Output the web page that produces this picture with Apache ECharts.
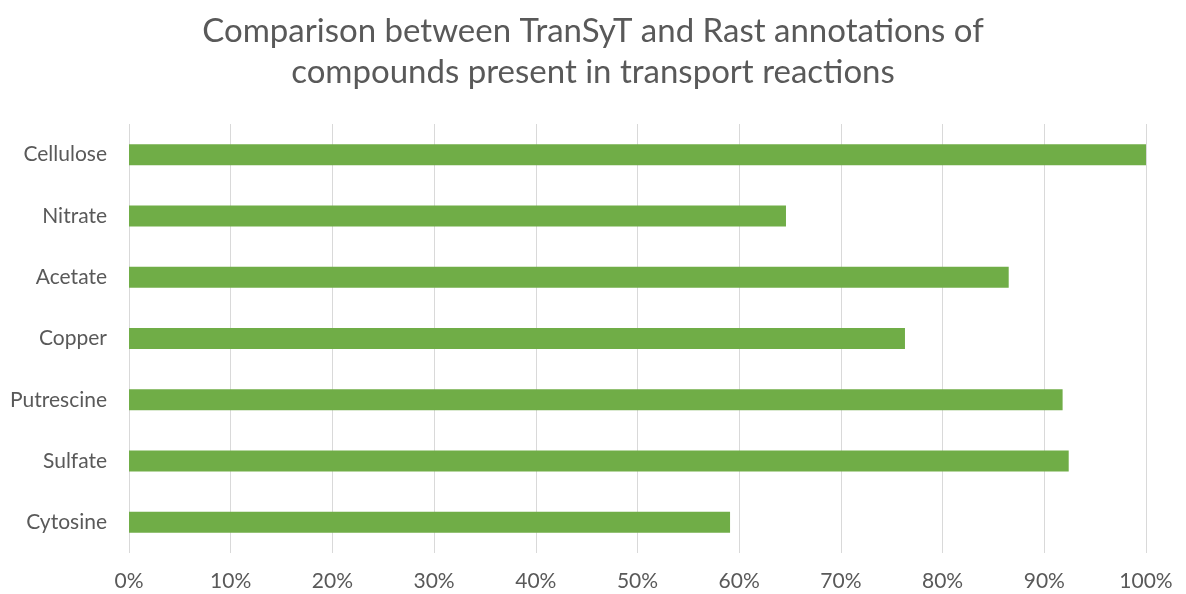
<!DOCTYPE html>
<html>
<head>
<meta charset="utf-8">
<script src="https://cdn.jsdelivr.net/npm/echarts@6/dist/echarts.min.js"></script>
<style>html,body{margin:0;padding:0;background:#fff}#c{width:1186px;height:594px}</style>
</head>
<body>
<div id="c"></div>
<script>
const titleText = 'Comparison between TranSyT and Rast annotations of\ncompounds present in transport reactions';
const categories = ['Cellulose', 'Nitrate', 'Acetate', 'Copper', 'Putrescine', 'Sulfate', 'Cytosine'];
const shares = [1.00, 0.646, 0.865, 0.763, 0.918, 0.924, 0.591];

const chart = echarts.init(document.getElementById('c'), null, {renderer: 'canvas'});
const font = 'Lato, "Open Sans", sans-serif';
chart.setOption({
  animation: false,
  backgroundColor: '#ffffff',
  title: {
    text: titleText,
    left: 'center',
    top: 6,
    textStyle: {fontFamily: font, fontSize: 33, fontWeight: 'normal', color: '#595959', lineHeight: 41}
  },
  grid: {left: 129, right: 40, top: 124, bottom: 41, containLabel: false},
  xAxis: {
    type: 'value', min: 0, max: 1, interval: 0.1,
    axisLine: {show: false}, axisTick: {show: false},
    splitLine: {show: true, lineStyle: {color: '#d9d9d9', width: 1}},
    axisLabel: {
      fontFamily: font, fontSize: 21, color: '#595959', margin: 18,
      formatter: v => Math.round(v * 100) + '%'
    }
  },
  yAxis: {
    type: 'category', data: categories, inverse: true,
    axisLine: {show: false}, axisTick: {show: false},
    splitLine: {show: false},
    axisLabel: {fontFamily: font, fontSize: 21, color: '#595959', margin: 22}
  },
  series: [{
    type: 'bar', data: shares, barWidth: 21,
    itemStyle: {color: '#70ad47'}
  }]
});
</script>
</body>
</html>
